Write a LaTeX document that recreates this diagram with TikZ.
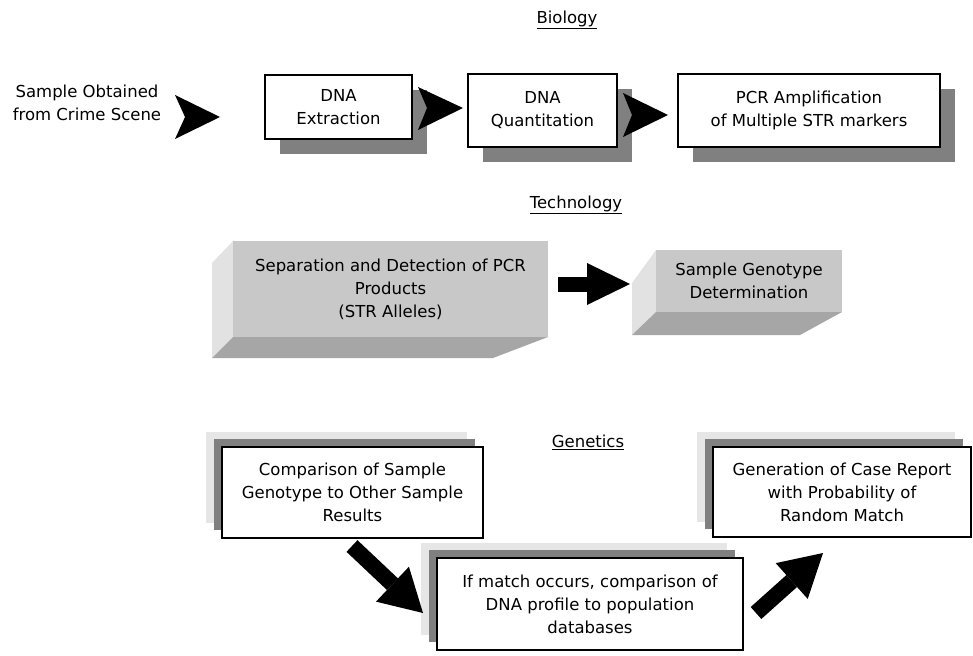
\documentclass[tikz,border=0pt]{standalone}
\usepackage{fontspec}
\setmainfont{DejaVu Sans}
\usetikzlibrary{arrows.meta,shadows}
\definecolor{shd}{RGB}{128,128,128}
\definecolor{lt}{RGB}{230,230,230}
\definecolor{frontc}{RGB}{200,200,200}
\definecolor{sidec}{RGB}{226,226,226}
\definecolor{bottomc}{RGB}{166,166,166}
\begin{document}
\begin{tikzpicture}[x=1pt,y=-1pt,
  every node/.style={font=\fontsize{16.5}{23}\selectfont, align=center, inner sep=0pt},
  wbox/.style={draw=black, line width=1.6pt, fill=white},
  bioshadow/.style={drop shadow={shadow xshift=15pt, shadow yshift=-15pt, fill=shd, opacity=1}},
  genshadow/.style={drop shadow={shadow xshift=-16pt, shadow yshift=15pt, fill=lt, opacity=1},
                    drop shadow={shadow xshift=-8pt, shadow yshift=8pt, fill=shd, opacity=1}},
  headarrow/.style={fill=black},
  fatarrow/.style={line width=15pt, -{Triangle[length=43pt,width=42pt,line width=0pt]}},
  diagarrow/.style={line width=16pt, -{Triangle[length=42pt,width=48pt,line width=0pt]}}
]
\useasboundingbox (0,0) rectangle (973,655);

% headers
\node (hbio) at (567,20) {\underline{Biology}};
\node (htech) at (576,205) {\underline{Technology}};
\node (hgen) at (588,442) {\underline{Genetics}};

% Biology row
\node (src) at (87,103) {Sample Obtained\\from Crime Scene};
\node[wbox, bioshadow, minimum width=147pt, minimum height=64pt] (ext) at (338.5,107) {DNA\\Extraction};
\node[wbox, bioshadow, minimum width=149pt, minimum height=73pt] (quant) at (542.5,110.5) {DNA\\Quantitation};
\node[wbox, bioshadow, minimum width=262pt, minimum height=73pt] (pcr) at (809,110.5) {PCR Amplification\\of Multiple STR markers};

\fill[headarrow] (175,95) -- (220,117) -- (175,139) -- (185,117) -- cycle;
\fill[headarrow] (418,87) -- (463,108) -- (418,130) -- (427,108) -- cycle;
\fill[headarrow] (623,93) -- (668,115) -- (623,137) -- (632,115) -- cycle;

% Technology row: 3D boxes
\fill[sidec] (233,241) -- (212,263) -- (212,358) -- (233,337) -- cycle;
\fill[bottomc] (233,337) -- (548,337) -- (493,358) -- (212,358) -- cycle;
\fill[frontc] (233,241) rectangle (548,337);
\node (sep) at (390.5,289) {Separation and Detection of PCR\\Products\\(STR Alleles)};

\fill[sidec] (656,250) -- (632,283) -- (632,335) -- (656,312) -- cycle;
\fill[bottomc] (656,312) -- (842,312) -- (800,335) -- (632,335) -- cycle;
\fill[frontc] (656,250) rectangle (842,312);
\node (geno) at (749,281) {Sample Genotype\\Determination};

\coordinate (t1) at (558,284);
\coordinate (t2) at (630,284);
\draw[fatarrow] (t1) -- (t2);

% Genetics row
\node[wbox, genshadow, minimum width=261pt, minimum height=91pt] (comp) at (352.5,492.5) {Comparison of Sample\\Genotype to Other Sample\\Results};
\node[wbox, genshadow, minimum width=306pt, minimum height=92pt] (match) at (590,604) {If match occurs, comparison of\\DNA profile to population\\databases};
\node[wbox, genshadow, minimum width=258pt, minimum height=90pt] (report) at (842,492) {Generation of Case Report\\with Probability of\\Random Match};

\coordinate (d1) at (352,546);
\coordinate (d2) at (423,613);
\coordinate (u1) at (756,613);
\coordinate (u2) at (823,553);
\draw[diagarrow] (d1) -- (d2);
\draw[diagarrow] (u1) -- (u2);
\end{tikzpicture}
\end{document}
